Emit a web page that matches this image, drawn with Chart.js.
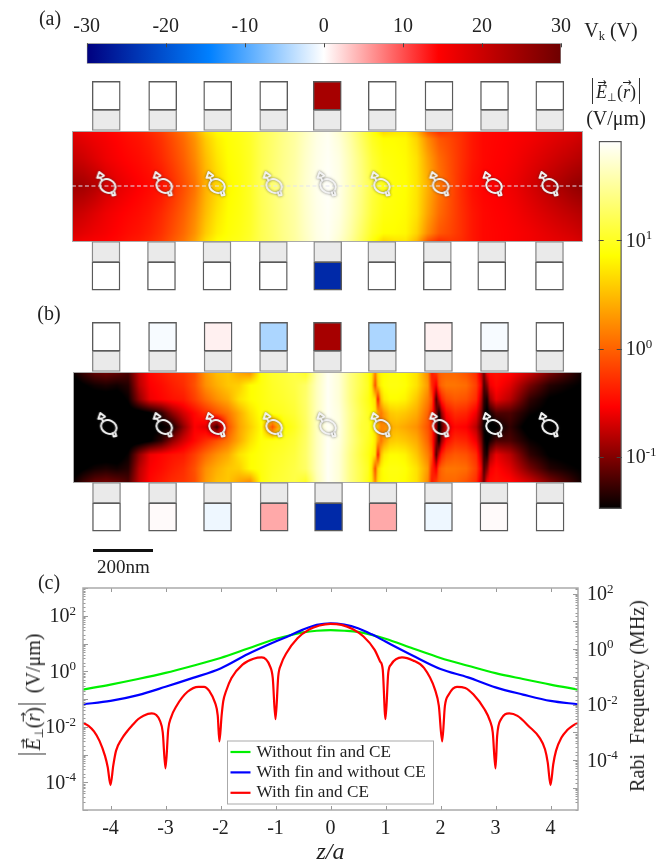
<!DOCTYPE html>
<html><head><meta charset="utf-8">
<script src="https://cdn.jsdelivr.net/npm/chart.js@4"></script>
<style>
html,body{margin:0;padding:0;background:#fff;width:660px;height:860px;overflow:hidden}
canvas{position:absolute;display:block}
.t{position:absolute;font-family:'Liberation Serif',serif;color:#222;white-space:nowrap;transform:translate(-50%,-50%);line-height:1}
.t i{font-style:italic}
.v{border-left:1px solid #333;border-right:1px solid #333;padding:5px 3px 3px;display:inline-block}
.s{font-size:62%;vertical-align:-3px;line-height:0}
.a{position:relative;display:inline-block}
.a b{position:absolute;left:50%;top:-0.52em;transform:translateX(-45%);font-weight:normal;font-size:62%;font-style:normal;font-family:'DejaVu Sans',sans-serif}
</style></head><body>
<canvas id="cbV" style="left:0;top:0" width="660" height="66"></canvas>
<canvas id="panelA" style="left:66px;top:75px" width="524" height="222"></canvas>
<canvas id="panelB" style="left:66px;top:316px" width="524" height="222"></canvas>
<canvas id="cbE" style="left:590px;top:130px" width="70" height="390"></canvas>
<canvas id="lines" style="left:0;top:570px" width="660" height="290"></canvas>

<div class="t" style="left:50px;top:18px;font-size:20px">(a)</div>
<div class="t" style="left:49px;top:313px;font-size:20px">(b)</div>
<div class="t" style="left:49px;top:582px;font-size:20px">(c)</div>
<div class="t" style="left:611px;top:30px;font-size:20px">V<span class="s">k</span> (V)</div>
<div class="t" style="left:616px;top:91px;font-size:18px"><span class="v"><span class="a"><i>E</i><b>&#8594;</b></span><span class="s">&#8869;</span>(<span class="a"><i>r</i><b>&#8594;</b></span>)</span></div>
<div class="t" style="left:616px;top:118px;font-size:20px">(V/&#956;m)</div>
<div style="position:absolute;left:92.5px;top:548.5px;width:60px;height:3px;background:#111"></div>
<div class="t" style="left:123.5px;top:566px;font-size:19px">200nm</div>
<div class="t" style="left:32px;top:694px;font-size:20px;transform:translate(-50%,-50%) rotate(-90deg)"><span class="v"><span class="a"><i>E</i><b>&#8594;</b></span><span class="s">&#8869;</span>(<span class="a"><i>r</i><b>&#8594;</b></span>)</span>&nbsp;&nbsp;(V/&#956;m)</div>
<div class="t" style="left:637px;top:696px;font-size:20px;transform:translate(-50%,-50%) rotate(-90deg)">Rabi&nbsp; Frequency (MHz)</div>

<script>
// ---------- panel (c): log10 of |E| ----------
const greenZ   = [-4.5,-4,-3.5,-3,-2.5,-2,-1.5,-1,-0.75,-0.5,-0.25,0,0.25,0.5,0.75,1,1.5,2,2.5,3,3.5,4,4.5];
const greenLog = [-0.66,-0.48,-0.28,-0.06,0.2,0.48,0.82,1.16,1.29,1.40,1.46,1.48,1.46,1.42,1.31,1.17,0.82,0.48,0.2,-0.07,-0.28,-0.48,-0.66];
const blueZ    = [-4.5,-4,-3.5,-3,-2.5,-2,-1.5,-1,-0.75,-0.5,-0.25,0,0.25,0.5,0.75,1,1.5,2,2.5,3,3.5,4,4.5];
const blueLog  = [-1.19,-1.07,-0.86,-0.56,-0.24,0.1,0.62,1.07,1.28,1.5,1.67,1.73,1.68,1.55,1.33,1.07,0.56,0.08,-0.22,-0.58,-0.84,-1.07,-1.19];
const redZ = [-4.5,-4.4,-4.3,-4.2,-4.1,-4.05,-4,-3.95,-3.9,-3.8,-3.7,-3.6,-3.5,-3.4,-3.25,-3.1,-3.05,-3,-2.95,-2.9,-2.8,-2.6,-2.4,-2.3,-2.2,-2.1,-2.05,-2.02,-1.98,-1.95,-1.9,-1.8,-1.6,-1.4,-1.25,-1.1,-1.05,-1,-0.95,-0.9,-0.8,-0.6,-0.4,-0.2,0,0.2,0.4,0.6,0.8,0.9,0.95,1,1.05,1.1,1.3,1.5,1.7,1.9,1.97,2.03,2.08,2.15,2.3,2.45,2.6,2.8,2.9,2.95,3,3.03,3.1,3.25,3.4,3.6,3.8,3.9,3.95,4,4.05,4.1,4.2,4.3,4.4,4.5];
const redLog = [-1.86,-1.97,-2.17,-2.51,-3.05,-3.46,-4.1,-3.4,-2.87,-2.45,-2.17,-1.94,-1.73,-1.6,-1.52,-1.79,-2.2,-3.5,-2.09,-1.67,-1.25,-0.74,-0.56,-0.56,-0.72,-1.13,-1.6,-2.53,-1.6,-1.08,-0.72,-0.24,0.24,0.45,0.5,0.18,-0.24,-1.73,-0.18,0.24,0.66,1.19,1.49,1.65,1.71,1.67,1.52,1.25,0.78,0.36,0.06,-1.73,-0.06,0.24,0.5,0.39,0.12,-0.66,-1.25,-2.53,-1.25,-0.84,-0.56,-0.6,-0.84,-1.37,-1.79,-2.2,-3.5,-2.33,-1.73,-1.52,-1.61,-1.97,-2.39,-2.81,-3.29,-4.1,-3.35,-2.87,-2.39,-2.13,-1.97,-1.86];
const seriesLabels = ['Without fin and CE','With fin and without CE','With fin and CE'];
const zTicks = [-4,-3,-2,-1,0,1,2,3,4];

// ---------- panels (a) and (b): electrode positions (units of a) and voltages ----------
const aTopX = [-3.995,-2.978,-1.987,-0.978,-0.013,0.978,2.0,3.0,3.996];
const aBotX = [-4.0,-3.0,-2.0,-0.985,-0.005,0.97,1.97,2.95,3.99];
const bTopX = [-3.995,-2.98,-1.98,-0.98,-0.01,0.98,1.99,3.0,3.996];
const bBotX = [-3.99,-2.98,-1.99,-0.97,0.01,0.99,1.99,2.99,4.0];
const aTopV = [0,0,0,0,24,0,0,0,0];
const aBotV = [0,0,0,0,-25,0,0,0,0];
const bTopV = [0,-0.45,0.85,-4.7,24,-4.7,0.85,-0.45,0];
const bBotV = [0,0.3,-0.96,4.9,-25,4.9,-0.96,0.3,0];
const spinX_A = [-3.97,-2.95,-2.0,-0.97,0.0,0.97,2.03,2.99,4.0];
const spinX_B = [-3.95,-2.95,-2.0,-0.97,0.0,0.97,2.03,2.99,4.0];

// field maps: log10|E| on a grid, rows by distance from the axis
const aCols = [-4.6,-4.4,-4.2,-4,-3.8,-3.6,-3.4,-3.2,-3,-2.8,-2.6,-2.4,-2.2,-2,-1.8,-1.6,-1.4,-1.2,-1,-0.8,-0.6,-0.4,-0.2,0,0.2,0.4,0.6,0.8,1,1.2,1.4,1.6,1.8,2,2.2,2.4,2.6,2.8,3,3.2,3.4,3.6,3.8,4,4.2,4.4,4.6];
const aRowY = [0,0.5,0.85,1];
const aRow0 = [-.90,-.88,-.82,-.72,-.65,-.60,-.55,-.50,-.45,-.30,-.12,.08,.42,.62,.82,.90,1.02,1.22,1.34,1.46,1.56,1.72,1.84,1.90,1.82,1.62,1.40,1.12,.96,.90,.86,.72,.42,.12,-.10,-.30,-.46,-.53,-.55,-.58,-.62,-.68,-.74,-.80,-.86,-.92,-.96];
const aRow1 = [-.76,-.72,-.66,-.60,-.56,-.52,-.48,-.42,-.32,-.18,-.02,.2,.5,.72,.86,.92,1.02,1.2,1.32,1.44,1.54,1.7,1.82,1.88,1.8,1.6,1.36,1.08,.92,.88,.84,.7,.35,.05,-.12,-.28,-.42,-.5,-.53,-.55,-.58,-.62,-.66,-.7,-.74,-.78,-.82];
const aRow2 = [-.68,-.64,-.60,-.57,-.53,-.48,-.44,-.37,-.27,-.12,.04,.26,.58,.78,.88,.94,1.03,1.2,1.31,1.43,1.53,1.68,1.81,1.87,1.76,1.55,1.28,1.0,.86,.85,.82,.62,.22,-.06,-.16,-.28,-.42,-.5,-.52,-.54,-.56,-.58,-.61,-.64,-.67,-.7,-.74];
const aRow3 = [-.62,-.58,-.56,-.54,-.50,-.44,-.40,-.32,-.22,-.06,.10,.34,.68,.86,.92,.96,1.05,1.2,1.3,1.42,1.52,1.66,1.8,1.86,1.72,1.5,1.22,.92,.62,.70,.72,.45,-.1,-.32,-.25,-.3,-.42,-.5,-.52,-.54,-.56,-.58,-.6,-.62,-.64,-.66,-.7];

const bCols = [-4.6,-4.4,-4.2,-4,-3.8,-3.6,-3.4,-3.2,-3,-2.8,-2.6,-2.4,-2.2,-2,-1.8,-1.6,-1.4,-1.2,-1,-0.8,-0.6,-0.4,-0.2,0,0.2,0.4,0.6,
  .72,.79,.85,.90,.955,1.01,1.12,1.24,1.39,1.60,1.80,1.87,1.95,2.0,2.05,2.13,2.29,2.49,2.67,2.76,2.81,2.865,2.92,3.03,3.28,3.64,4.0,4.36,4.6];
const bRowY = [0,0.25,0.5,0.75,1];
const bRow0 = [-1.6,-1.6,-1.6,-1.6,-1.6,-1.6,-1.55,-1.55,-1.5,-1.4,-.95,-.55,-.65,-1.3,-.1,.35,.6,.85,-.1,.85,1.0,1.25,1.65,1.88,1.8,1.45,1.1,
  1.05,.85,.7,.45,.2,.2,.4,.45,.38,.25,-.1,-.3,-.9,-1.6,-1.2,-.7,-.5,-.55,-.8,-1.2,-1.45,-1.6,-1.6,-1.5,-1.3,-1.6,-1.6,-1.6,-1.6];
const bRow1 = [-1.6,-1.6,-1.6,-1.6,-1.6,-1.6,-1.6,-1.5,-1.3,-.95,-.7,-.5,-.3,-.1,.1,.4,.7,.9,.95,1.0,1.08,1.28,1.65,1.88,1.78,1.45,1.15,
  1.0,.9,.75,.35,.1,.3,.55,.6,.55,.4,0,-.3,-1.0,-1.45,-.9,-.5,-.3,-.35,-.6,-1.0,-1.4,-1.55,-1.4,-1.2,-1.2,-1.45,-1.55,-1.6,-1.6];
const bRow2 = [-1.6,-1.6,-1.6,-1.6,-1.6,-1.45,-.95,-.6,-.52,-.45,-.4,-.2,.05,.25,.4,.7,.85,.92,1.0,1.05,1.12,1.3,1.65,1.88,1.75,1.4,1.1,
  .95,.8,.7,-.4,.5,.75,.85,.85,.8,.55,.15,-.1,-1.2,-.7,-.35,-.15,-.05,-.1,-.3,-.8,-1.3,-1.4,-.9,-.62,-.8,-1.3,-1.5,-1.55,-1.55];
const bRow3 = [-1.6,-1.5,-1.42,-1.38,-1.42,-1.35,-.8,-.55,-.48,-.38,-.3,-.1,.25,.42,.55,.6,.85,.92,1.02,1.08,1.15,1.28,1.65,1.88,1.75,1.4,1.15,
  1.0,.7,-.1,.6,.8,.88,.92,.92,.88,.7,.3,-.3,-.6,-.1,.02,.1,.1,.05,-.2,-.6,-1.2,-1.0,-.6,-.5,-.65,-1.05,-1.35,-1.45,-1.5];
const bRow4 = [-1.45,-1.25,-1.1,-1.05,-1.1,-1.2,-.75,-.5,-.4,-.3,-.25,-.12,.3,.5,.55,.35,.2,.9,1.05,1.1,1.15,1.0,1.6,1.88,1.75,1.4,1.15,
  .95,.75,.2,.7,.82,.85,.9,.9,.85,.7,.2,-.4,-.2,-.05,0,.02,.02,-.1,-.3,-.75,-1.05,-.55,-.48,-.45,-.5,-.7,-1.0,-1.25,-1.45];

const vTicks = [-30,-20,-10,0,10,20,30];
const eRangeLog = [-1.484, 1.92];

// ---------- colour maps ----------
const voltStops = [[-30,[0,0,127]],[-14.5,[0,128,255]],[0,[255,255,255]],[14.5,[255,0,0]],[30,[110,0,0]]];
const hotStops  = [[-1.484,[0,0,0]],[-0.54,[255,0,0]],[0.86,[255,255,0]],[1.92,[255,255,255]]];
function mapColor(stops,v){
  if(v<=stops[0][0]) return stops[0][1];
  for(let i=1;i<stops.length;i++){
    if(v<=stops[i][0]){
      const f=(v-stops[i-1][0])/(stops[i][0]-stops[i-1][0]);
      return stops[i-1][1].map((c,k)=>c+(stops[i][1][k]-c)*f);
    }
  }
  return stops[stops.length-1][1];
}
const rgb=c=>`rgb(${c.map(Math.round).join(',')})`;

const serif='Liberation Serif';
Chart.defaults.font.family=serif;
Chart.defaults.color='#222';
Chart.defaults.animation=false;
Chart.defaults.responsive=false;
Chart.defaults.plugins.legend.display=false;
Chart.defaults.plugins.tooltip.enabled=false;

function findSeg(arr,v){
  if(v<=arr[0]) return [0,0,0];
  for(let i=1;i<arr.length;i++){ if(v<=arr[i]) return [i-1,i,(v-arr[i-1])/(arr[i]-arr[i-1])]; }
  const n=arr.length-1; return [n,n,0];
}
function fieldPlugin(cols,rowY,rows,xRange){
  return {id:'field',beforeDatasetsDraw(chart){
    const sx=chart.scales.x, sy=chart.scales.y;
    const x0=Math.round(sx.getPixelForValue(xRange[0])), x1=Math.round(sx.getPixelForValue(xRange[1]));
    const y0=Math.round(sy.getPixelForValue(1)), y1=Math.round(sy.getPixelForValue(-1));
    const w=x1-x0,h=y1-y0;
    const off=document.createElement('canvas'); off.width=w; off.height=h;
    const oc=off.getContext('2d'); const img=oc.createImageData(w,h);
    for(let j=0;j<h;j++){
      const yv=Math.abs(sy.getValueForPixel(y0+j+.5));
      const [r0,r1,fr]=findSeg(rowY,yv);
      for(let i=0;i<w;i++){
        const xv=sx.getValueForPixel(x0+i+.5);
        const [c0,c1,fc]=findSeg(cols,xv);
        const a=rows[r0][c0]*(1-fc)+rows[r0][c1]*fc, b=rows[r1][c0]*(1-fc)+rows[r1][c1]*fc;
        const col=mapColor(hotStops,a*(1-fr)+b*fr);
        const p=(j*w+i)*4; img.data[p]=col[0]; img.data[p+1]=col[1]; img.data[p+2]=col[2]; img.data[p+3]=255;
      }
    }
    oc.putImageData(img,0,0);
    const c=chart.ctx; c.drawImage(off,x0,y0);
    c.strokeStyle='#aaa'; c.lineWidth=1; c.strokeRect(x0+.5,y0+.5,w-1,h-1);
  }};
}
function spinGlyph(){
  const cv=document.createElement('canvas'); cv.width=44; cv.height=44;
  const c=cv.getContext('2d'); c.translate(22,22);
  c.strokeStyle='#f2f2f2'; c.lineWidth=2; c.lineJoin='round';
  c.shadowColor='rgba(50,50,50,.65)'; c.shadowBlur=2.5;
  c.beginPath(); c.ellipse(0,0,8,6.6,0.45,0,Math.PI*2); c.stroke();
  c.beginPath(); c.moveTo(-5.5,-4.5); c.lineTo(-7,-8.5); c.lineTo(-10.5,-8.2); c.lineTo(-8.5,-14); c.lineTo(-3.8,-10.4); c.lineTo(-6,-9); c.stroke();
  c.beginPath(); c.moveTo(3.6,5.4); c.lineTo(4.8,9.6); c.lineTo(7.6,9); c.lineTo(6.4,5.2); c.stroke();
  return cv;
}
const glyph=spinGlyph();

function inwardTicks(){
  return {id:'inward',afterDatasetsDraw(chart,args,o){
    const c=chart.ctx,a=chart.chartArea;
    c.save(); c.strokeStyle=o.color||'#999'; c.lineWidth=1;
    for(const id of Object.keys(chart.scales)){
      const s=chart.scales[id]; if(s.options.display===false) continue;
      for(const t of s.ticks){
        const lg=Math.log10(t.value); const pw=s.type==='logarithmic'&&Math.abs(lg-Math.round(lg))<1e-6;
        if(s.type==='logarithmic'&&o.decadesOnly&&!pw) continue;
        if(s.type!=='logarithmic'&&!Number.isInteger(t.value)) continue;
        const len=s.type==='logarithmic'?(pw?5:2.5):4;
        const p=Math.round(s.getPixelForValue(t.value))+.5;
        c.beginPath();
        if(s.isHorizontal()){
          c.moveTo(p,a.top);c.lineTo(p,a.top+len);
          if(o.bothSides!==false){c.moveTo(p,a.bottom);c.lineTo(p,a.bottom-len);}
        } else if(s.position==='left'){
          c.moveTo(a.left,p);c.lineTo(a.left+len,p);
        } else {
          c.moveTo(a.right,p);c.lineTo(a.right-len,p);
          if(o.decadesOnly){c.moveTo(a.left,p);c.lineTo(a.left+len,p);}
        }
        c.stroke();
      }
    }
    if(o.frame){c.strokeStyle=o.frame;c.lineWidth=1.5;c.strokeRect(a.left,a.top,a.right-a.left,a.bottom-a.top);}
    c.restore();
  }};
}
// tick labels of the form 10^n with a genuine small exponent, placed from the scale
function powerLabels(){
  return {id:'powerLabels',afterDraw(chart,args,o){
    const c=chart.ctx; c.save(); c.fillStyle='#222'; c.textBaseline='alphabetic';
    for(const id of Object.keys(chart.scales)){
      const s=chart.scales[id]; if(s.type!=='logarithmic') continue;
      const list=o[id]||{};
      (list.exps||[]).forEach(e=>{
        const py=s.getPixelForValue(10**e);
        const base='10', ex=String(e);
        c.font=`20px "${serif}"`; const bw=c.measureText(base).width;
        c.font=`13px "${serif}"`; const ew=c.measureText(ex).width;
        const x=s.position==='left'? s.right-list.gap-bw-ew : s.left+list.gap;
        c.font=`20px "${serif}"`; c.fillText(base,x,py+6.5);
        c.font=`13px "${serif}"`; c.fillText(ex,x+bw,py-1);
      });
    }
    c.restore();
  }};
}

// ---------- V colour bar ----------
new Chart(document.getElementById('cbV'),{
  type:'bar',
  data:{labels:['Vk'],datasets:[{data:[[vTicks[0],vTicks[vTicks.length-1]]],barPercentage:1,categoryPercentage:1,borderWidth:1,borderColor:'#888',borderSkipped:false,
    backgroundColor(ctx){
      const s=ctx.chart.scales.x; if(!s||s.width===undefined||!isFinite(s.left)) return '#fff';
      const g=ctx.chart.ctx.createLinearGradient(s.left,0,s.right,0);
      voltStops.forEach(st=>g.addColorStop((st[0]+30)/60,rgb(st[1])));
      return g;
    }}]},
  options:{indexAxis:'y',layout:{padding:{left:86.7,right:99,bottom:2.3,top:0}},
    scales:{
      y:{display:false},
      x:{position:'top',min:-30,max:30,afterFit(s){s.height=43.3;},
        grid:{display:false,drawTicks:false},border:{display:false},
        afterBuildTicks(s){s.ticks=vTicks.map(v=>({value:v}));},
        ticks:{font:{size:20},padding:5,maxRotation:0,autoSkip:false,callback:v=>String(v)}}
    },
    plugins:{inward:{color:'#444',bothSides:false}}},
  plugins:[inwardTicks()]
});

// ---------- device panels ----------
function panel(id,cols,rowY,rows,xRange,topX,botX,topV,botV,spinX,dashed){
  const bar=(xs,lo,hi,colors,bc,order)=>({type:'bar',data:xs.map(x=>({x,y:[lo,hi]})),grouped:false,barThickness:28,
    backgroundColor:colors,borderColor:bc,borderWidth:1.4,borderSkipped:false,order});
  const ds=[
    bar(topX,1,1.37,'#eaeaea','#8a8a8a',4),
    bar(botX,-1.37,-1,'#eaeaea','#8a8a8a',4),
    bar(topX,1.37,1.885,topV.map(v=>rgb(mapColor(voltStops,v))),'#5a5a5a',3),
    bar(botX,-1.875,-1.37,botV.map(v=>rgb(mapColor(voltStops,v))),'#5a5a5a',3),
    {type:'scatter',data:spinX.map(x=>({x,y:0})),pointStyle:glyph,pointRadius:22,order:1}
  ];
  if(dashed) ds.push({type:'line',data:[{x:xRange[0],y:0},{x:xRange[1],y:0}],borderColor:'#e4e4f2',borderWidth:1.2,borderDash:[4,2.5],pointRadius:0,order:2});
  new Chart(document.getElementById(id),{
    data:{datasets:ds},
    options:{layout:{padding:0,autoPadding:false},
      scales:{x:{type:'linear',min:-4.72,max:4.72,display:false,offset:false},y:{type:'linear',min:-2,max:2,display:false}}},
    plugins:[fieldPlugin(cols,rowY,rows,xRange)]
  });
}
panel('panelA',aCols,aRowY,[aRow0,aRow1,aRow2,aRow3],[-4.613,4.6],aTopX,aBotX,aTopV,aBotV,spinX_A,true);
panel('panelB',bCols,bRowY,[bRow0,bRow1,bRow2,bRow3,bRow4],[-4.59,4.58],bTopX,bBotX,bTopV,bBotV,spinX_B,false);

// ---------- E colour bar ----------
new Chart(document.getElementById('cbE'),{
  type:'bar',
  data:{labels:['E'],datasets:[{data:[[10**eRangeLog[0],10**eRangeLog[1]]],barPercentage:1,categoryPercentage:1,borderWidth:1.5,borderColor:'#555',borderSkipped:false,
    backgroundColor(ctx){
      const s=ctx.chart.scales.y; if(!s||!isFinite(s.top)) return '#fff';
      const g=ctx.chart.ctx.createLinearGradient(0,s.bottom,0,s.top);
      hotStops.forEach(st=>g.addColorStop(Math.min(1,Math.max(0,(st[0]-eRangeLog[0])/(eRangeLog[1]-eRangeLog[0]))),rgb(st[1])));
      return g;
    }}]},
  options:{layout:{padding:{left:8.7,right:0,top:11,bottom:11}},
    scales:{
      x:{display:false},
      y:{type:'logarithmic',position:'right',min:10**eRangeLog[0],max:10**eRangeLog[1],afterFit(s){s.width=38.3;},
        grid:{display:false,drawTicks:false},border:{display:false},
        ticks:{display:false,autoSkip:false}}
    },
    plugins:{inward:{color:'#444',decadesOnly:true},powerLabels:{y:{exps:[1,0,-1],gap:4}}}},
  plugins:[inwardTicks(),powerLabels()]
});

// ---------- panel (c) line chart ----------
const pts=(zs,ls)=>zs.map((z,i)=>({x:z,y:10**ls[i]}));
const lineDs=(i,zs,ls,color,order)=>({label:seriesLabels[i],data:pts(zs,ls),borderColor:color,backgroundColor:color,borderWidth:2.2,pointRadius:0,cubicInterpolationMode:'monotone',order});
const legendBox={id:'legendBox',afterDraw(chart){
  const c=chart.ctx,x=227.5,y=171,w=206,h=63; c.save();
  c.fillStyle='#fff';c.strokeStyle='#aaa';c.lineWidth=1;c.fillRect(x,y,w,h);c.strokeRect(x,y,w,h);
  c.font=`17.2px "${serif}"`;c.textBaseline='middle';
  chart.data.datasets.forEach((d,i)=>{
    const yy=y+11+i*20.4;
    c.strokeStyle=d.borderColor;c.lineWidth=2.2;c.beginPath();c.moveTo(x+3,yy);c.lineTo(x+23,yy);c.stroke();
    c.fillStyle='#222';c.fillText(d.label,x+29,yy);
  });
  c.restore();
}};
const decadeExps=[2,0,-2,-4];
new Chart(document.getElementById('lines'),{
  type:'line',
  data:{datasets:[lineDs(0,greenZ,greenLog,'#00f000',3),lineDs(1,blueZ,blueLog,'#0000ff',2),lineDs(2,redZ,redLog,'#ff0000',1)]},
  options:{layout:{padding:{top:18,left:0,right:0,bottom:0},autoPadding:false},
    scales:{
      x:{type:'linear',min:-4.5,max:4.5,afterFit(s){s.height=50;},
        afterBuildTicks(s){s.ticks=zTicks.map(v=>({value:v}));},
        grid:{display:false,drawTicks:false},border:{display:false},
        ticks:{font:{size:20},padding:7,maxRotation:0,autoSkip:false,callback:v=>String(v)},
        title:{display:true,text:'z/a',font:{size:24,style:'italic',lineHeight:0.6},padding:0}},
      y:{type:'logarithmic',position:'left',min:1e-5,max:1e3,afterFit(s){s.width=83;},
        grid:{display:false,drawTicks:false},border:{display:false},ticks:{display:false,autoSkip:false}},
      yR:{type:'logarithmic',position:'right',min:10**-5.8,max:10**2.2,afterFit(s){s.width=82;},
        grid:{display:false,drawTicks:false},border:{display:false},ticks:{display:false,autoSkip:false}}
    },
    plugins:{inward:{color:'#999',frame:'#aaa'},powerLabels:{y:{exps:decadeExps,gap:7},yR:{exps:decadeExps,gap:9}}}},
  plugins:[inwardTicks(),legendBox,powerLabels()]
});
</script>
</body></html>
